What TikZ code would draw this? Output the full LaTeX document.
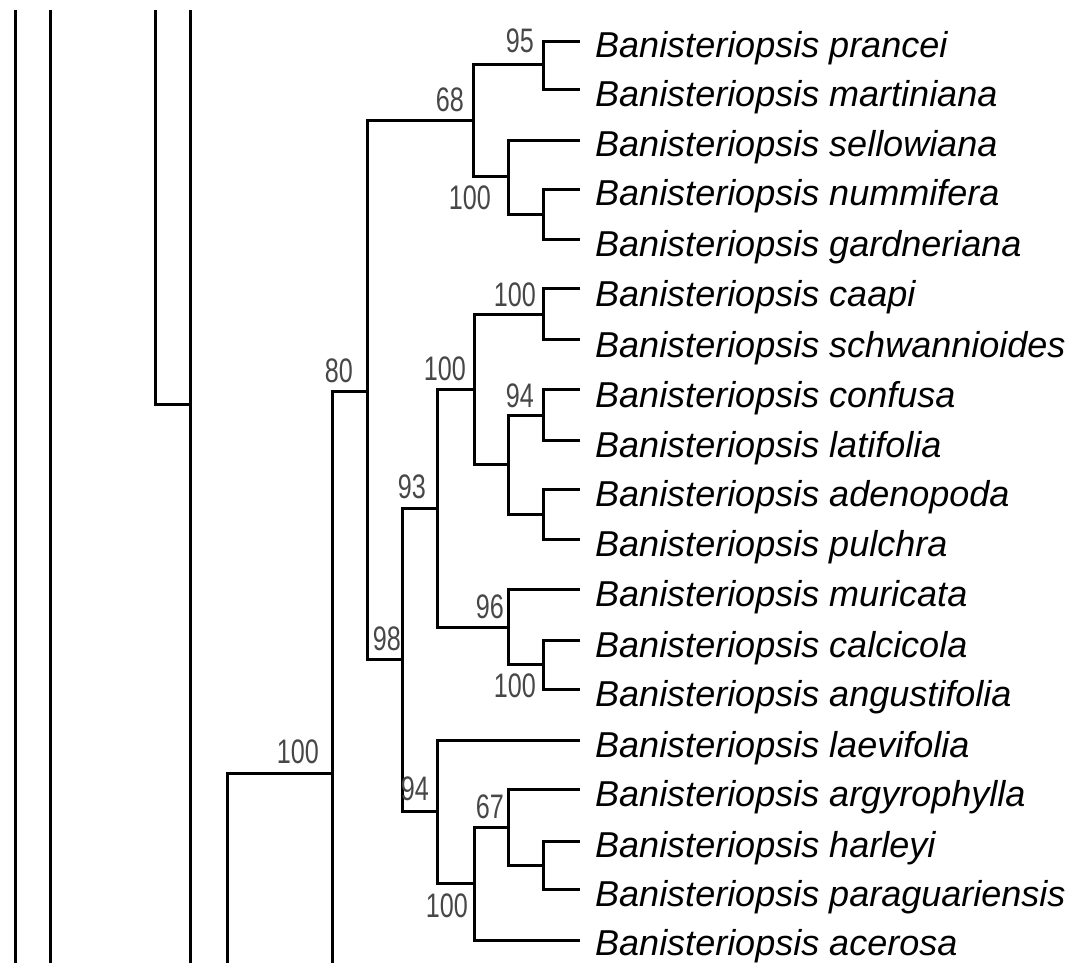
\documentclass[tikz,border=0pt]{standalone}
\usepackage{fontspec}
\setmainfont{Liberation Sans}
\newfontfamily\bsfont[FakeStretch=0.74]{Liberation Sans}
\tikzset{
  br/.style={line width=3pt, line join=miter, black},
  leaf/.style={anchor=base west, inner sep=0pt, font=\fontsize{36}{40}\selectfont\itshape},
  bs/.style={anchor=base east, inner sep=0pt, text=black!72, font=\bsfont\fontsize{34}{36}\selectfont}
}
\begin{document}
\begin{tikzpicture}[x=1pt,y=-1pt]
\path[use as bounding box] (0,0) rectangle (1081,965);
% leaves
\foreach \n/\y/\b/\t in {0/42/58/prancei, 1/90/107/martiniana, 2/141/157/sellowiana,
  3/190/206/nummifera, 4/240/257/gardneriana, 5/289/307/caapi, 6/340/357/schwannioides,
  7/389/407/confusa, 8/440/457/latifolia, 9/489/506/adenopoda, 10/539/556/pulchra,
  11/589/606/muricata, 12/640/657/calcicola, 13/689/706/angustifolia, 14/740/757/laevifolia,
  15/789/806/argyrophylla, 16/841/857/harleyi, 17/889/906/paraguariensis, 18/940/955/acerosa}
{
  \coordinate (L\n) at (580,\y);
  \node[leaf] (T\n) at (595,\b) {Banisteriopsis \t};
}
% internal nodes
\coordinate (a) at (543,65);
\coordinate (b) at (543,215);
\coordinate (c) at (508,177);
\coordinate (d) at (473,121);
\coordinate (e) at (543,315);
\coordinate (f) at (543,415);
\coordinate (g) at (543,514);
\coordinate (h) at (508,464);
\coordinate (i) at (474,389);
\coordinate (j) at (543,664);
\coordinate (k) at (508,627);
\coordinate (l) at (437,508);
\coordinate (m) at (543,865);
\coordinate (n) at (508,827);
\coordinate (o) at (474,883);
\coordinate (p) at (437,811);
\coordinate (q) at (402,659);
\coordinate (r) at (367,391);
\coordinate (s) at (332,773);
\coordinate (sbot) at (332,963);
\coordinate (t) at (227,963);
\coordinate (u) at (190,404);
\coordinate (utop) at (190,10);
\coordinate (ubot) at (190,963);
\coordinate (v) at (155,10);
\coordinate (w1top) at (15,10);
\coordinate (w1bot) at (15,963);
\coordinate (w2top) at (50,10);
\coordinate (w2bot) at (50,963);
% branches
\draw[br] (a) |- (L0); \draw[br] (a) |- (L1);
\draw[br] (b) |- (L3); \draw[br] (b) |- (L4);
\draw[br] (c) |- (L2); \draw[br] (c) |- (b);
\draw[br] (d) |- (a);  \draw[br] (d) |- (c);
\draw[br] (e) |- (L5); \draw[br] (e) |- (L6);
\draw[br] (f) |- (L7); \draw[br] (f) |- (L8);
\draw[br] (g) |- (L9); \draw[br] (g) |- (L10);
\draw[br] (h) |- (f);  \draw[br] (h) |- (g);
\draw[br] (i) |- (e);  \draw[br] (i) |- (h);
\draw[br] (j) |- (L12); \draw[br] (j) |- (L13);
\draw[br] (k) |- (L11); \draw[br] (k) |- (j);
\draw[br] (l) |- (i);  \draw[br] (l) |- (k);
\draw[br] (m) |- (L16); \draw[br] (m) |- (L17);
\draw[br] (n) |- (L15); \draw[br] (n) |- (m);
\draw[br] (o) |- (n);  \draw[br] (o) |- (L18);
\draw[br] (p) |- (L14); \draw[br] (p) |- (o);
\draw[br] (q) |- (l);  \draw[br] (q) |- (p);
\draw[br] (r) |- (d);  \draw[br] (r) |- (q);
\draw[br] (s) |- (r);  \draw[br] (s) -- (sbot);
\draw[br] (t) |- (s);
\draw[br] (utop) -- (ubot);
\draw[br] (v) |- (u);
\draw[br] (w1top) -- (w1bot);
\draw[br] (w2top) -- (w2bot);
% bootstrap values
\node[bs] (ba) at (534,53) {95};
\node[bs] (bd) at (464,112) {68};
\node[bs] (bc) at (491,210) {100};
\node[bs] (be) at (536,307) {100};
\node[bs] (bi) at (466,380) {100};
\node[bs] (bf) at (534,407) {94};
\node[bs] (bl) at (426,498) {93};
\node[bs] (bk) at (504,618) {96};
\node[bs] (bq) at (401,650) {98};
\node[bs] (bj) at (536,697) {100};
\node[bs] (br) at (353,382) {80};
\node[bs] (bsn) at (319,763) {100};
\node[bs] (bp) at (429,800) {94};
\node[bs] (bn) at (504,818) {67};
\node[bs] (bo) at (468,917) {100};
\end{tikzpicture}
\end{document}
